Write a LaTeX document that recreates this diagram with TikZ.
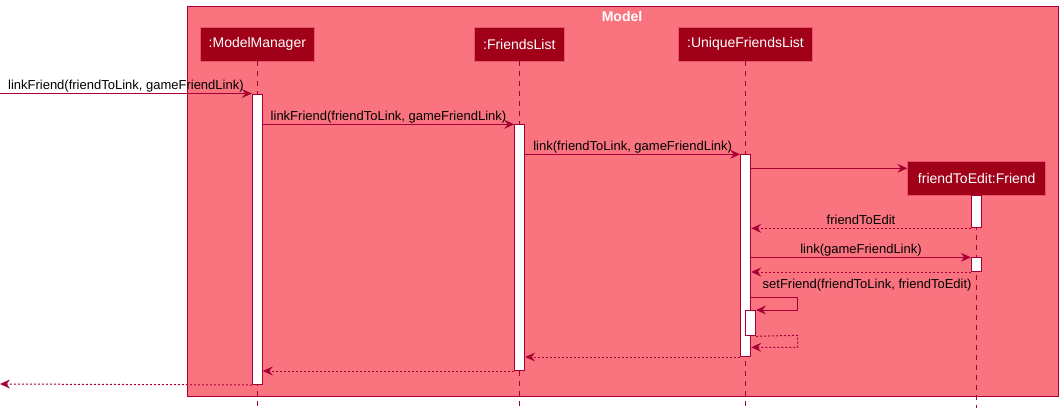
\documentclass[tikz,border=0pt]{standalone}
\usepackage{fontspec}
\setmainfont{Liberation Sans}
\usetikzlibrary{arrows.meta}
\definecolor{framefill}{RGB}{250,116,128}
\definecolor{partfill}{RGB}{160,0,24}
\definecolor{plline}{RGB}{168,0,54}
\definecolor{partborder}{RGB}{232,84,112}
\tikzset{
  frameline/.style={draw=plline, line width=1pt, fill=framefill},
  part/.style={draw=partborder, line width=0.8pt, fill=partfill, text=white,
    font=\fontsize{14}{16}\selectfont, inner sep=0pt, minimum height=33.3pt},
  life/.style={draw=plline, line width=0.8pt, dash pattern=on 5pt off 5pt},
  act/.style={draw=plline, line width=1pt, fill=white, inner sep=0pt, minimum width=10pt},
  tip/.style={-{Stealth[length=10pt,width=9pt,inset=3.5pt]}},
  msg/.style={draw=plline, line width=1pt, tip},
  ret/.style={draw=plline, line width=1pt, dash pattern=on 2pt off 2pt, tip},
  lbl/.style={font=\fontsize{13}{15}\selectfont, inner sep=0pt, anchor=base, yshift=4pt},
}
\begin{document}
\begin{tikzpicture}[x=1pt,y=-1pt]
\useasboundingbox (0,0) rectangle (1063,408);
% frame
\path[frameline] (187,6) rectangle (1058,396.7);
\node[text=white, font=\fontsize{14}{16}\selectfont\bfseries, anchor=base] (title) at (622,21.5) {Model};
% participants
\node[part, minimum width=113.3pt] (mm) at (257.35,44.35) {:ModelManager};
\node[part, minimum width=90pt] (fl) at (519.3,44.35) {:FriendsList};
\node[part, minimum width=133.6pt] (ufl) at (745.5,44.35) {:UniqueFriendsList};
\node[part, minimum width=138pt] (fr) at (976.7,178.35) {friendToEdit:Friend};
% lifeline ends
\coordinate (mmE) at (257.3,408);
\coordinate (flE) at (519.3,408);
\coordinate (uflE) at (745.4,408);
\coordinate (frE) at (976.3,408);
\draw[life] (mm.south -| mmE) -- (mmE);
\draw[life] (fl.south -| flE) -- (flE);
\draw[life] (ufl.south -| uflE) -- (uflE);
\draw[life] (fr.south -| frE) -- (frE);
% activations
\node[act, minimum height=290.5pt, anchor=north] (mmA) at (257.3,93.5) {};
\node[act, minimum height=245.7pt, anchor=north] (flA) at (519.7,124.3) {};
\node[act, minimum height=201.7pt, anchor=north] (uflA) at (745.7,154.3) {};
\node[act, minimum height=32.6pt, anchor=north] (frA1) at (976.3,194.7) {};
\node[act, minimum height=13.7pt, anchor=north] (frA2) at (976.3,257.3) {};
\node[act, minimum height=25.3pt, anchor=north] (nestA) at (750.5,310) {};
% coordinates
\coordinate (in1) at (0,93.5);
\coordinate (out1) at (0,384);
\coordinate (cr) at (0,168.3);
\coordinate (s1) at (797.7,297.3);
\coordinate (s2) at (797.7,335.3);
\coordinate (s3) at (797.7,347.3);
% messages
\draw[msg] (in1) -- node[lbl] (l1) {linkFriend(friendToLink, gameFriendLink)} (mmA.north west);
\draw[msg] (mmA.east |- flA.north) -- node[lbl] (l2) {linkFriend(friendToLink, gameFriendLink)} (flA.north west);
\draw[msg] (flA.east |- uflA.north) -- node[lbl] (l3) {link(friendToLink, gameFriendLink)} (uflA.north west);
\draw[msg] (uflA.east |- cr) -- (fr.west |- cr);
\draw[ret] (frA1.south west) -- node[lbl] (l4) {friendToEdit} (uflA.east |- frA1.south);
\draw[msg] (uflA.east |- frA2.north) -- node[lbl] (l5) {link(gameFriendLink)} (frA2.north west);
\draw[ret] (frA2.south west) -- (uflA.east |- frA2.south);
\draw[msg] (uflA.east |- s1) -- (s1) |- (nestA.north east);
\node[lbl, anchor=base west, yshift=0pt] (l6) at (762.5,292) {setFriend(friendToLink, friendToEdit)};
\draw[ret] (nestA.south east) -- (s2) -- (s3) -- (uflA.east |- s3);
\draw[ret] (uflA.south west) -- (flA.east |- uflA.south);
\draw[ret] (flA.south west) -- (mmA.east |- flA.south);
\draw[ret] (mmA.south west) -- (out1);
\end{tikzpicture}
\end{document}
